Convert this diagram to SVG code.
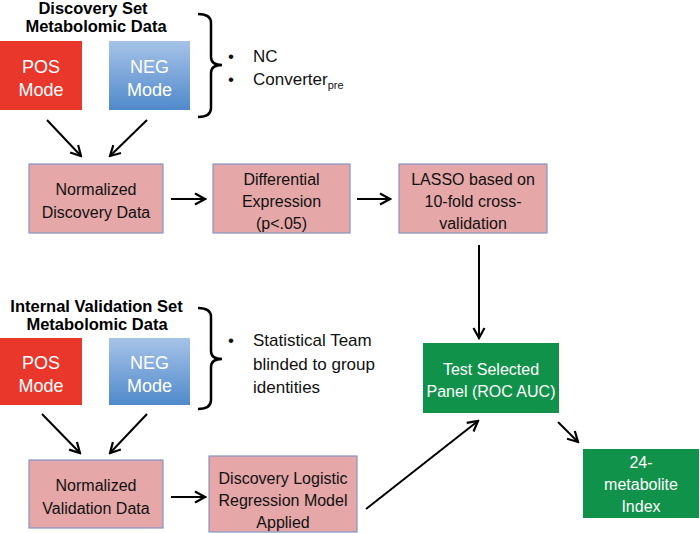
<svg xmlns="http://www.w3.org/2000/svg" width="700" height="533" viewBox="0 0 700 533">
<defs>
<linearGradient id="blueGrad" x1="0" y1="0" x2="0" y2="1">
<stop offset="0" stop-color="#a6c3e8"/>
<stop offset="1" stop-color="#5089cb"/>
</linearGradient>
<marker id="arr" markerUnits="userSpaceOnUse" markerWidth="14" markerHeight="14" viewBox="0 0 14 14" refX="12" refY="7" orient="auto">
<path d="M2,1.5 L12,7 L2,12.5" fill="none" stroke="#000" stroke-width="2.2" stroke-linejoin="miter"/>
</marker>
<style>
.t{font-family:"Liberation Sans",Arial,sans-serif;}
.title{font-size:16.5px;font-weight:bold;fill:#000;text-anchor:middle;}
.box{fill:#e5a7a7;stroke:#8595c4;stroke-width:1.2;}
.pos{fill:#e9372b;}
.neg{fill:url(#blueGrad);}
.green{fill:#10924a;}
.bt{font-size:16px;fill:#111;text-anchor:middle;}
.wt{font-size:16px;fill:#fff;text-anchor:middle;}
.mt{font-size:18px;fill:#fff;text-anchor:middle;}
.bl{font-size:17px;fill:#111;}
.conn line{stroke:#000;stroke-width:2;marker-end:url(#arr);}
.brace{fill:none;stroke:#000;stroke-width:2.5;}
</style>
</defs>
<rect width="700" height="533" fill="#fff"/>

<g id="discovery-title" class="t">
<text class="title" x="93" y="14">Discovery Set</text>
<text class="title" x="96" y="32">Metabolomic Data</text>
</g>
<g id="pos1"><rect class="pos" x="0" y="41" width="82" height="69"/>
<text class="t mt" x="41" y="73">POS</text><text class="t mt" x="41" y="96">Mode</text></g>
<g id="neg1"><rect class="neg" x="109" y="41" width="81" height="69"/>
<text class="t mt" x="149.5" y="73">NEG</text><text class="t mt" x="149.5" y="96">Mode</text></g>
<g id="brace1"><path class="brace" d="M198,14 Q211,14 211,23 L211,57 Q211,65 222,65 Q211,65 211,73 L211,108 Q211,117 198,117"/></g>
<g id="notes1" class="t">
<text class="bl" x="228" y="62">•</text><text class="bl" x="253" y="62">NC</text>
<text class="bl" x="228" y="85">•</text><text class="bl" x="253" y="85">Converter<tspan font-size="11px" dy="4">pre</tspan></text>
</g>

<g id="norm-disc"><rect class="box" x="29" y="164" width="134" height="69"/>
<text class="t bt" x="96" y="195">Normalized</text><text class="t bt" x="96" y="218">Discovery Data</text></g>
<g id="diff-expr"><rect class="box" x="213" y="164" width="137" height="69"/>
<text class="t bt" x="281.5" y="185">Differential</text><text class="t bt" x="281.5" y="207">Expression</text><text class="t bt" x="281.5" y="229">(p&lt;.05)</text></g>
<g id="lasso"><rect class="box" x="399" y="164" width="148" height="69"/>
<text class="t bt" x="473" y="185">LASSO based on</text><text class="t bt" x="473" y="207">10-fold cross-</text><text class="t bt" x="473" y="229">validation</text></g>

<g id="validation-title" class="t">
<text class="title" x="96.5" y="312">Internal Validation Set</text>
<text class="title" x="97" y="330">Metabolomic Data</text>
</g>
<g id="pos2"><rect class="pos" x="0" y="338" width="82" height="67"/>
<text class="t mt" x="41" y="369">POS</text><text class="t mt" x="41" y="392">Mode</text></g>
<g id="neg2"><rect class="neg" x="109" y="338" width="81" height="67"/>
<text class="t mt" x="149.5" y="369">NEG</text><text class="t mt" x="149.5" y="392">Mode</text></g>
<g id="brace2"><path class="brace" d="M198,308 Q211,308 211,317 L211,351 Q211,359 222,359 Q211,359 211,367 L211,400 Q211,409 198,409"/></g>
<g id="notes2" class="t">
<text class="bl" x="228" y="346">•</text>
<text class="bl" x="253" y="346">Statistical Team</text>
<text class="bl" x="253" y="370">blinded to group</text>
<text class="bl" x="253" y="393">identities</text>
</g>

<g id="norm-val"><rect class="box" x="29" y="460" width="134" height="68"/>
<text class="t bt" x="96" y="491">Normalized</text><text class="t bt" x="96" y="514">Validation Data</text></g>
<g id="dlr"><rect class="box" x="209" y="456" width="148" height="76"/>
<text class="t bt" x="283" y="484">Discovery Logistic</text><text class="t bt" x="283" y="506">Regression Model</text><text class="t bt" x="283" y="528">Applied</text></g>

<g id="test-panel"><rect class="green" x="423" y="343" width="136" height="70"/>
<text class="t wt" x="491" y="375">Test Selected</text><text class="t wt" x="491" y="397">Panel (ROC AUC)</text></g>
<g id="index24"><rect class="green" x="583" y="449" width="116" height="69"/>
<text class="t wt" x="641" y="468">24-</text><text class="t wt" x="641" y="490">metabolite</text><text class="t wt" x="641" y="512">Index</text></g>

<g id="connectors" class="conn">
<line x1="47" y1="120" x2="81" y2="156"/>
<line x1="147" y1="120" x2="110" y2="156"/>
<line x1="171" y1="199" x2="205" y2="199"/>
<line x1="357" y1="199" x2="390" y2="199"/>
<line x1="479" y1="245" x2="479" y2="338"/>
<line x1="42" y1="414" x2="80" y2="453"/>
<line x1="147" y1="414" x2="110" y2="453"/>
<line x1="171" y1="497" x2="205" y2="497"/>
<line x1="366" y1="509" x2="478" y2="421"/>
<line x1="558" y1="422" x2="578" y2="442"/>
</g>
</svg>
